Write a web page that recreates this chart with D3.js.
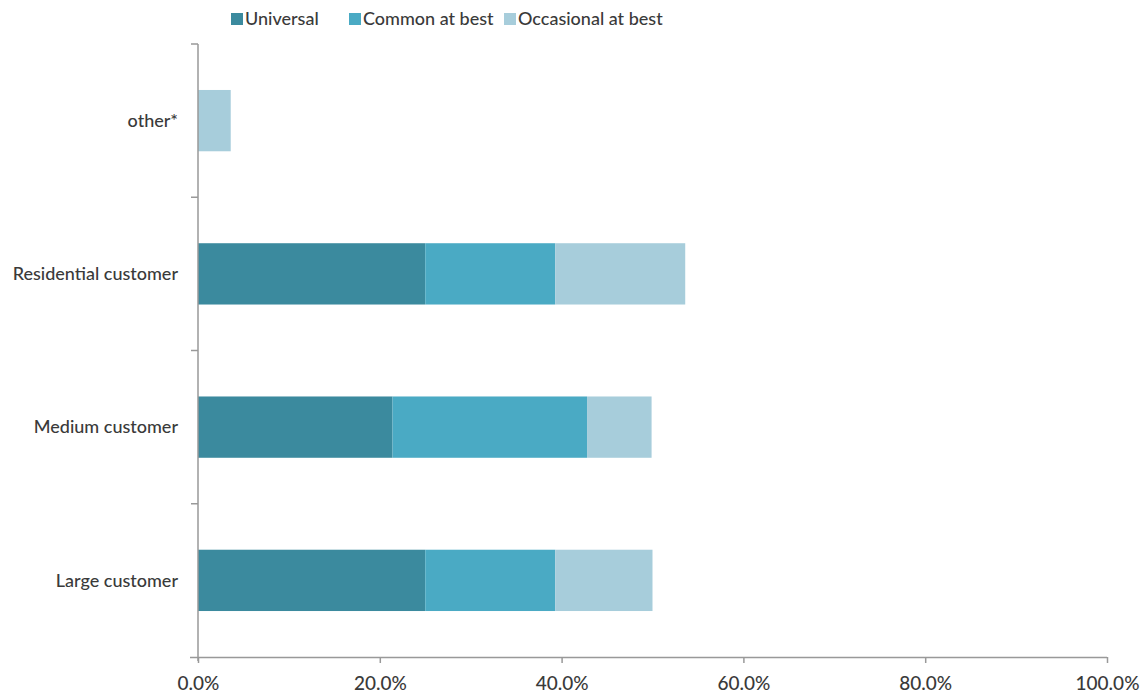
<!DOCTYPE html>
<html>
<head>
<meta charset="utf-8">
<script src="https://cdn.jsdelivr.net/npm/d3@7"></script>
<style>
  html, body { margin: 0; padding: 0; background: #fff; }
  svg { display: block; font-family: "Lato", "Open Sans", sans-serif; }
</style>
</head>
<body>
<svg id="chart" width="1147" height="697"></svg>
<script>
// Customer segments, top to bottom
const categories = ["other*", "Residential customer", "Medium customer", "Large customer"];
const seriesNames = ["Universal", "Common at best", "Occasional at best"];
const universal  = [0.0, 25.0, 21.4, 25.0];
const common     = [0.0, 14.3, 21.4, 14.3];
const occasional = [3.6, 14.3, 7.1, 10.7];
const xTicks = [0, 20, 40, 60, 80, 100];
const colors = ["#3b8a9e", "#4aaac4", "#a7cddb"];

const svg = d3.select("#chart");
const x0 = 198, x1 = 1107, y0 = 44, y1 = 657;

const x = d3.scaleLinear().domain([0, 100]).range([x0, x1]);
const y = d3.scaleBand().domain(categories).range([y0, y1])
  .paddingInner(0.6).paddingOuter(0.3);

const rows = categories.map((c, i) => ({ cat: c, Universal: universal[i], "Common at best": common[i], "Occasional at best": occasional[i] }));
const stacked = d3.stack().keys(seriesNames)(rows);

const g = svg.append("g");
stacked.forEach((layer, si) => {
  g.selectAll(null).data(layer).join("rect")
    .filter(d => d[1] - d[0] > 0)
    .attr("x", d => x(d[0]))
    .attr("width", d => x(d[1]) - x(d[0]))
    .attr("y", d => y(d.data.cat))
    .attr("height", y.bandwidth())
    .attr("fill", colors[si]);
});

const axisColor = "#999";
const textColor = "#3a3a3a";

// x axis
const xAxis = svg.append("g").attr("transform", `translate(0,${y1})`)
  .call(d3.axisBottom(x).tickValues(xTicks).tickFormat(d => d.toFixed(1) + "%").tickSize(6).tickSizeOuter(0));
xAxis.select(".domain").attr("stroke", axisColor).attr("stroke-width", 1.5)
  .attr("d", `M${x0 - 8},0.5H${x1}`);
xAxis.selectAll(".tick line").attr("stroke", axisColor).attr("stroke-width", 1.5);
xAxis.selectAll(".tick text").attr("fill", textColor).attr("font-size", 19)
  .attr("font-family", "Lato, 'Open Sans', sans-serif").attr("font-weight", 500)
  .attr("y", 20).attr("dy", "0.71em");

// y axis line and category boundary ticks
const yAxis = svg.append("g");
yAxis.append("line").attr("x1", x0).attr("x2", x0).attr("y1", y0).attr("y2", y1 + 4)
  .attr("stroke", axisColor).attr("stroke-width", 1.5);
const step = y.step();
const bounds = categories.map(c => y(c) - step * 0.3);
yAxis.selectAll(null).data(bounds).join("line")
  .attr("x1", x0 - 7).attr("x2", x0).attr("y1", d => d).attr("y2", d => d)
  .attr("stroke", axisColor).attr("stroke-width", 1.5);
yAxis.selectAll(null).data(categories).join("text")
  .attr("x", x0 - 20)
  .attr("y", d => y(d) + y.bandwidth() / 2)
  .attr("dy", "0.35em")
  .attr("text-anchor", "end")
  .attr("fill", textColor)
  .attr("font-size", 18)
  .attr("font-weight", 500)
  .text(d => d);

// Legend
const legendX = [231, 349, 504];
const legend = svg.append("g");
seriesNames.forEach((name, i) => {
  legend.append("rect").attr("x", legendX[i]).attr("y", 13).attr("width", 12).attr("height", 12).attr("fill", colors[i]);
  legend.append("text").attr("x", legendX[i] + 14).attr("y", 19).attr("dy", "0.35em")
    .attr("fill", textColor).attr("font-size", 18).attr("font-weight", 500).text(name);
});
</script>
</body>
</html>
